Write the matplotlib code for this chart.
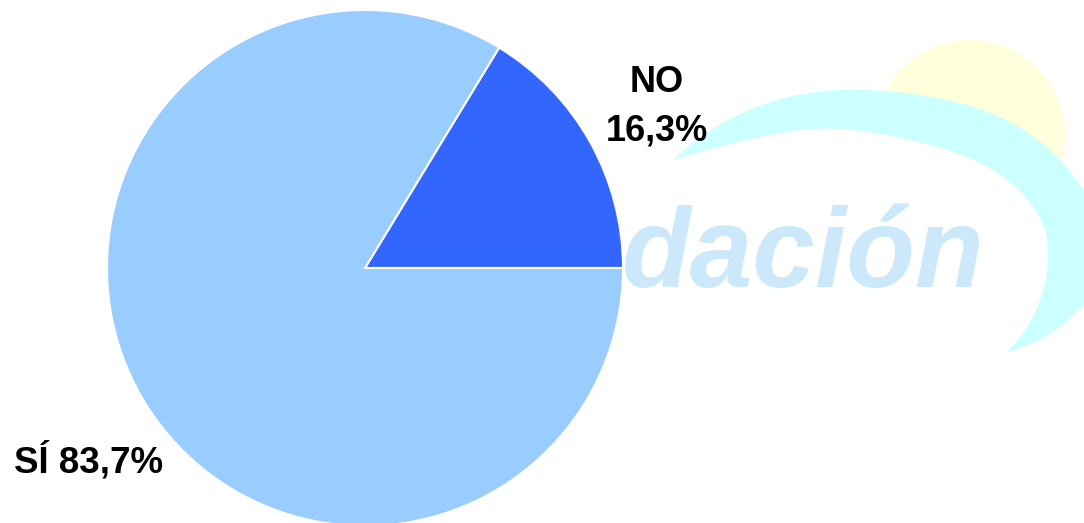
import numpy as np
import matplotlib
matplotlib.use("Agg")
import matplotlib.pyplot as plt
from matplotlib.patches import Circle, PathPatch
from matplotlib.path import Path

categories = ["NO", "SÍ"]
values = [16.3, 83.7]
labels = ["NO\n16,3%", "SÍ 83,7%"]
colors = ["#3366ff", "#99ccff"]

W, H = 1084, 523
fig = plt.figure(figsize=(W / 100, H / 100), dpi=100)
ax = fig.add_axes([0, 0, 1, 1])


def P(x, y):
    return (x, H - y)


# --- faint background logo (watermark) ---
ax.add_patch(Circle(P(970, 135), 95, facecolor="#ffffdc", edgecolor="none", zorder=0))

inner_pts = [P(1007, 352),
             P(1040, 320), P(1055, 270), P(1045, 230),
             P(1035, 195), P(990, 160), P(940, 148),
             P(890, 133), P(840, 125), P(800, 130),
             P(750, 137), P(700, 152), P(673, 160)]
inner_codes = [Path.MOVETO] + [Path.CURVE4] * 12

mask = Path(inner_pts + [P(1007, 352)], inner_codes + [Path.CLOSEPOLY])
ax.add_patch(PathPatch(mask, facecolor="white", edgecolor="none", zorder=0.5))

outer_pts = [P(673, 160),
             P(720, 115), P(780, 92), P(840, 90),
             P(900, 88), P(970, 100), P(1010, 122),
             P(1060, 148), P(1100, 200), P(1105, 250),
             P(1108, 290), P(1060, 340), P(1007, 352)]
outer_codes = [Path.MOVETO] + [Path.CURVE4] * 12
back_pts = inner_pts[1:]
back_codes = [Path.CURVE4] * 12
swoosh = Path(outer_pts + back_pts + [P(673, 160)],
              outer_codes + back_codes + [Path.CLOSEPOLY])
ax.add_patch(PathPatch(swoosh, facecolor="#ccffff", edgecolor="none", zorder=1))

ax.text(985, H - 287, "dación", family="Liberation Sans", weight="bold",
        style="italic", fontsize=81, color="#cbe9fb", ha="right",
        va="baseline", zorder=2)

# --- pie ---
cx, cy, r = 365, H - 268, 258
wedges, _ = ax.pie(values, colors=colors, startangle=0, counterclock=True,
                   center=(cx, cy), radius=r, frame=True,
                   wedgeprops=dict(edgecolor="white", linewidth=1.5))
for w in wedges:
    w.set_zorder(3)
ax.set_xlim(0, W)
ax.set_ylim(0, H)
ax.set_aspect("equal")
ax.axis("off")

no_lines = labels[0].split("\n")
ax.text(657, H - 92, no_lines[0], family="Liberation Sans", weight="bold",
        fontsize=26, ha="center", va="baseline", zorder=5)
ax.text(657, H - 140, no_lines[1], family="Liberation Sans", weight="bold",
        fontsize=26, ha="center", va="baseline", zorder=5)
ax.text(14, H - 473, labels[1], family="Liberation Sans", weight="bold",
        fontsize=26.5, ha="left", va="baseline", zorder=5)

fig.savefig("out.png", dpi=100, facecolor="white")
